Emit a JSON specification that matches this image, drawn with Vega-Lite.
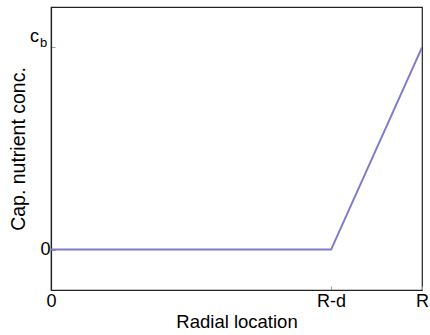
{
  "$schema": "https://vega.github.io/schema/vega-lite/v6.json",
  "autosize": {"type": "none"},
  "width": 371,
  "height": 283,
  "padding": {"left": 51, "top": 7, "right": 8, "bottom": 45},
  "background": "white",
  "config": {
    "view": {"stroke": "#222222", "strokeWidth": 1.2},
    "font": "Liberation Sans",
    "axis": {
      "domainColor": "#222222",
      "domainWidth": 1.2,
      "grid": false,
      "tickColor": "#999999",
      "tickSize": -4,
      "labelFont": "Liberation Sans",
      "labelFontSize": 18,
      "labelColor": "black",
      "titleFont": "Liberation Sans",
      "titleFontWeight": "normal",
      "titleColor": "black"
    }
  },
  "datasets": {
    "profile": [
      {"r": 0, "c": 0},
      {"r": 0.755, "c": 0},
      {"r": 1, "c": 1}
    ],
    "lab": [
      {"r": 0, "c": 1, "t": "c", "part": "main"},
      {"r": 0, "c": 1, "t": "b", "part": "sub"}
    ]
  },
  "layer": [
    {
      "data": {"name": "profile"},
      "mark": {"type": "line", "color": "#7f7bcc", "strokeWidth": 2, "clip": true},
      "encoding": {
        "x": {
          "field": "r", "type": "quantitative",
          "scale": {"domain": [0, 1], "nice": false, "zero": false},
          "axis": {
            "values": [0, 0.755, 1],
            "labelExpr": "datum.value == 0 ? '0' : (datum.value == 1 ? 'R' : 'R-d')",
            "labelPadding": 6,
            "labelFlush": false,
            "title": "Radial location",
            "titleFontSize": 18.5,
            "titleBaseline": "alphabetic",
            "titleY": 37
          }
        },
        "y": {
          "field": "c", "type": "quantitative",
          "scale": {"domain": [-0.2, 1.2], "nice": false, "zero": false},
          "axis": {
            "values": [0, 1],
            "labelExpr": "datum.value == 0 ? '0' : ''",
            "labelPadding": 5,
            "title": "Cap. nutrient conc.",
            "titleFontSize": 19.5,
            "titleBaseline": "alphabetic",
            "titleX": -27
          }
        }
      }
    },
    {
      "data": {"name": "lab"},
      "transform": [{"filter": "datum.part == 'main'"}],
      "mark": {"type": "text", "align": "right", "baseline": "alphabetic", "fontSize": 18, "dx": -12, "dy": -5, "color": "black", "font": "Liberation Sans"},
      "encoding": {
        "x": {"field": "r", "type": "quantitative"},
        "y": {"field": "c", "type": "quantitative"},
        "text": {"field": "t"}
      }
    },
    {
      "data": {"name": "lab"},
      "transform": [{"filter": "datum.part == 'sub'"}],
      "mark": {"type": "text", "align": "left", "baseline": "alphabetic", "fontSize": 13, "dx": -11, "dy": 0, "color": "black", "font": "Liberation Sans"},
      "encoding": {
        "x": {"field": "r", "type": "quantitative"},
        "y": {"field": "c", "type": "quantitative"},
        "text": {"field": "t"}
      }
    }
  ]
}
